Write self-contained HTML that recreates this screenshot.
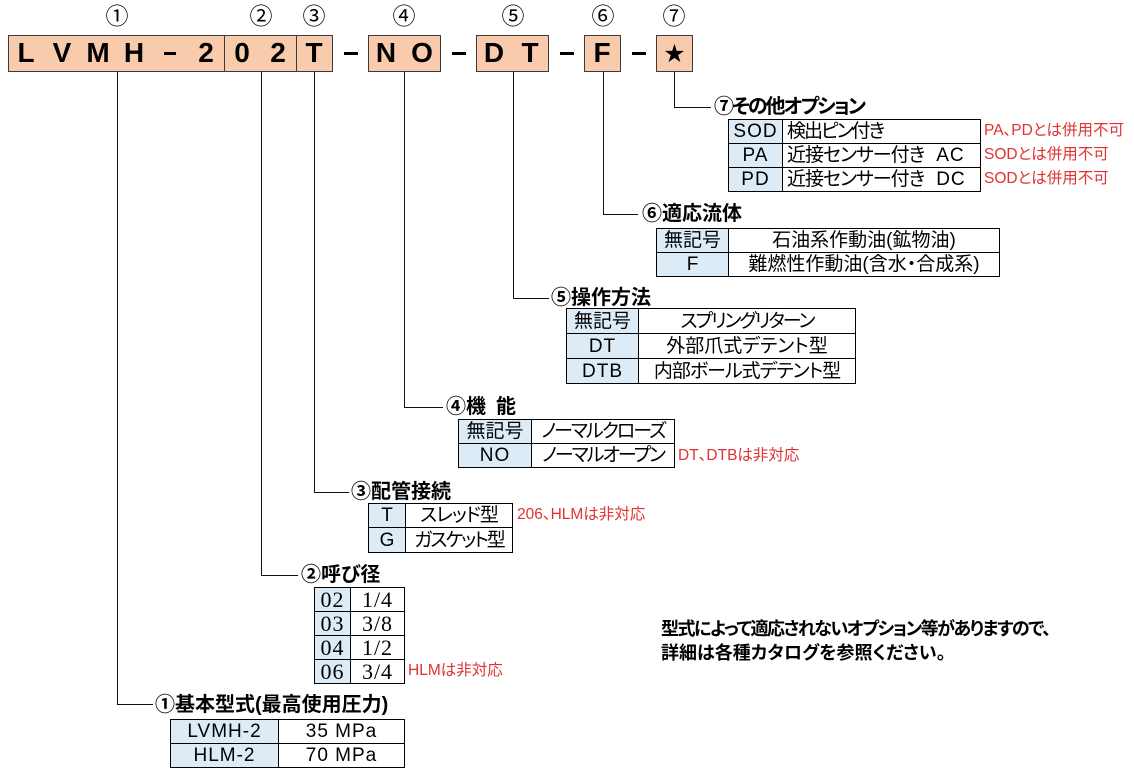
<!DOCTYPE html>
<html><head><meta charset="utf-8">
<style>
html,body{margin:0;padding:0;background:#fff;}
body{width:1134px;height:774px;position:relative;overflow:hidden;font-family:"Liberation Sans","Noto Sans CJK JP",sans-serif;font-feature-settings:"palt";color:#000;}
.a{position:absolute;}
.box{position:absolute;top:35px;height:37px;box-sizing:border-box;border:1px solid #3a3a3a;background:#F8CBAD;}
.hc{position:absolute;top:39px;width:36px;height:28px;line-height:28px;text-align:center;font-size:28px;font-weight:bold;font-family:"Liberation Sans",sans-serif;}
.dash{position:absolute;top:52px;width:12px;height:3px;background:#000;}
.cn{position:absolute;top:3px;width:30px;height:26px;display:flex;align-items:center;justify-content:center;font-size:23px;line-height:1;font-family:"Liberation Sans","Noto Sans CJK JP",sans-serif;}
.v{position:absolute;width:1px;background:#111;}
.h{position:absolute;height:1px;background:#111;}
.ttl{position:absolute;height:24px;line-height:24px;font-size:20px;font-weight:bold;white-space:nowrap;}
.c{position:absolute;box-sizing:border-box;border:1px solid #000;background:#fff;display:flex;align-items:center;justify-content:center;white-space:nowrap;font-size:19px;line-height:1;}
.k{background:#DDEBF7;}
.l{justify-content:flex-start;padding-left:4px;}
.ls{letter-spacing:1px;}
.n1{letter-spacing:-1px;}
.n2{letter-spacing:-2px;}
.sf{font-family:"Liberation Serif",serif;font-size:22px;letter-spacing:1px;}
.red{position:absolute;height:20px;line-height:20px;font-size:15.5px;color:#e03232;white-space:nowrap;}
.note{position:absolute;left:661px;top:617px;font-size:18px;font-weight:bold;line-height:24px;white-space:nowrap;}
</style></head><body>

<!-- circled numbers -->
<div class="cn" style="left:102px;">①</div>
<div class="cn" style="left:246px;">②</div>
<div class="cn" style="left:299px;">③</div>
<div class="cn" style="left:389px;">④</div>
<div class="cn" style="left:498px;">⑤</div>
<div class="cn" style="left:588px;">⑥</div>
<div class="cn" style="left:659px;">⑦</div>

<!-- header boxes -->
<div class="box" style="left:8px;width:217px;"></div>
<div class="box" style="left:224px;width:73px;"></div>
<div class="box" style="left:296px;width:37px;"></div>
<div class="box" style="left:368px;width:73px;"></div>
<div class="box" style="left:476px;width:73px;"></div>
<div class="box" style="left:584px;width:37px;"></div>
<div class="box" style="left:656px;width:37px;"></div>

<div class="hc" style="left:8px;">L</div>
<div class="hc" style="left:44px;">V</div>
<div class="hc" style="left:80px;">M</div>
<div class="hc" style="left:116px;">H</div>
<div class="dash" style="left:164px;"></div>
<div class="hc" style="left:188px;">2</div>
<div class="hc" style="left:224px;">0</div>
<div class="hc" style="left:260px;">2</div>
<div class="hc" style="left:296px;">T</div>
<div class="dash" style="left:344px;width:14px;"></div>
<div class="hc" style="left:368px;">N</div>
<div class="hc" style="left:404px;">O</div>
<div class="dash" style="left:452px;width:14px;"></div>
<div class="hc" style="left:476px;">D</div>
<div class="hc" style="left:512px;">T</div>
<div class="dash" style="left:560px;width:14px;"></div>
<div class="hc" style="left:584px;">F</div>
<div class="dash" style="left:632px;width:14px;"></div>
<div class="a" style="left:656px;top:35px;width:37px;height:37px;display:flex;align-items:center;justify-content:center;font-family:'DejaVu Sans',sans-serif;font-size:25px;line-height:1;">★</div>

<!-- connector lines -->
<div class="v" style="left:117px;top:72px;height:633px;"></div>
<div class="h" style="left:117px;top:704px;width:36px;"></div>
<div class="v" style="left:261px;top:72px;height:504px;"></div>
<div class="h" style="left:261px;top:575px;width:37px;"></div>
<div class="v" style="left:314px;top:72px;height:421px;"></div>
<div class="h" style="left:314px;top:492px;width:35px;"></div>
<div class="v" style="left:404px;top:72px;height:336px;"></div>
<div class="h" style="left:404px;top:407px;width:39px;"></div>
<div class="v" style="left:513px;top:72px;height:227px;"></div>
<div class="h" style="left:513px;top:298px;width:36px;"></div>
<div class="v" style="left:603px;top:72px;height:143px;"></div>
<div class="h" style="left:603px;top:214px;width:35px;"></div>
<div class="v" style="left:674px;top:72px;height:36px;"></div>
<div class="h" style="left:674px;top:107px;width:37px;"></div>

<!-- titles -->
<div class="ttl n2" style="left:714px;top:95px;">⑦その他オプション</div>
<div class="ttl" style="left:642px;top:202px;">⑥適応流体</div>
<div class="ttl" style="left:551px;top:286px;">⑤操作方法</div>
<div class="ttl" style="left:446px;top:395px;">④機<span style="margin-left:10px;">能</span></div>
<div class="ttl" style="left:351px;top:480px;">③配管接続</div>
<div class="ttl" style="left:301px;top:563px;">②呼び径</div>
<div class="ttl" style="left:155px;top:693px;">①基本型式(最高使用圧力)</div>

<!-- table 7 -->
<div class="c k ls" style="left:728px;top:119px;width:55px;height:25px;">SOD</div>
<div class="c l n2" style="left:782px;top:119px;width:199px;height:25px;">検出ピン付き</div>
<div class="c k ls" style="left:728px;top:143px;width:55px;height:25px;">PA</div>
<div class="c l" style="left:782px;top:143px;width:199px;height:25px;"><span class="n1">近接センサー付き</span><span style="margin-left:12px;" class="ls">AC</span></div>
<div class="c k ls" style="left:728px;top:167px;width:55px;height:25px;">PD</div>
<div class="c l" style="left:782px;top:167px;width:199px;height:25px;"><span class="n1">近接センサー付き</span><span style="margin-left:12px;" class="ls">DC</span></div>
<div class="red" style="left:984px;top:121px;">PA、PDとは併用不可</div>
<div class="red" style="left:984px;top:145px;">SODとは併用不可</div>
<div class="red" style="left:984px;top:169px;">SODとは併用不可</div>

<!-- table 6 -->
<div class="c k" style="left:656px;top:228px;width:73px;height:25px;">無記号</div>
<div class="c" style="left:728px;top:228px;width:272px;height:25px;">石油系作動油(鉱物油)</div>
<div class="c k" style="left:656px;top:252px;width:73px;height:25px;">F</div>
<div class="c" style="left:728px;top:252px;width:272px;height:25px;">難燃性作動油(含水・合成系)</div>

<!-- table 5 -->
<div class="c k" style="left:566px;top:308px;width:73px;height:26px;">無記号</div>
<div class="c n2" style="left:638px;top:308px;width:218px;height:26px;">スプリングリターン</div>
<div class="c k ls" style="left:566px;top:333px;width:73px;height:26px;">DT</div>
<div class="c" style="left:638px;top:333px;width:218px;height:26px;">外部爪式デテント型</div>
<div class="c k ls" style="left:566px;top:358px;width:73px;height:26px;">DTB</div>
<div class="c n1" style="left:638px;top:358px;width:218px;height:26px;">内部ボール式デテント型</div>

<!-- table 4 -->
<div class="c k" style="left:458px;top:419px;width:74px;height:25px;">無記号</div>
<div class="c n2" style="left:531px;top:419px;width:144px;height:25px;">ノーマルクローズ</div>
<div class="c k ls" style="left:458px;top:443px;width:74px;height:25px;">NO</div>
<div class="c n2" style="left:531px;top:443px;width:144px;height:25px;">ノーマルオープン</div>
<div class="red" style="left:678px;top:446px;">DT、DTBは非対応</div>

<!-- table 3 -->
<div class="c k" style="left:368px;top:503px;width:38px;height:25px;">T</div>
<div class="c n1" style="left:405px;top:503px;width:108px;height:25px;">スレッド型</div>
<div class="c k" style="left:368px;top:527px;width:38px;height:26px;">G</div>
<div class="c n2" style="left:405px;top:527px;width:108px;height:26px;">ガスケット型</div>
<div class="red" style="left:517px;top:505px;">206、HLMは非対応</div>

<!-- table 2 -->
<div class="c k sf" style="left:314px;top:587px;width:37px;height:25px;">02</div>
<div class="c sf" style="left:350px;top:587px;width:55px;height:25px;">1/4</div>
<div class="c k sf" style="left:314px;top:611px;width:37px;height:25px;">03</div>
<div class="c sf" style="left:350px;top:611px;width:55px;height:25px;">3/8</div>
<div class="c k sf" style="left:314px;top:635px;width:37px;height:25px;">04</div>
<div class="c sf" style="left:350px;top:635px;width:55px;height:25px;">1/2</div>
<div class="c k sf" style="left:314px;top:659px;width:37px;height:25px;">06</div>
<div class="c sf" style="left:350px;top:659px;width:55px;height:25px;">3/4</div>
<div class="red" style="left:408px;top:661px;">HLMは非対応</div>

<!-- table 1 -->
<div class="c k ls" style="left:170px;top:719px;width:109px;height:25px;">LVMH-2</div>
<div class="c ls" style="left:278px;top:719px;width:127px;height:25px;">35 MPa</div>
<div class="c k ls" style="left:170px;top:743px;width:109px;height:25px;">HLM-2</div>
<div class="c ls" style="left:278px;top:743px;width:127px;height:25px;">70 MPa</div>

<!-- note -->
<div class="note"><span style="letter-spacing:-1.5px;">型式によって適応されないオプション等がありますので、</span><br>詳細は各種カタログを参照ください。</div>

</body></html>
